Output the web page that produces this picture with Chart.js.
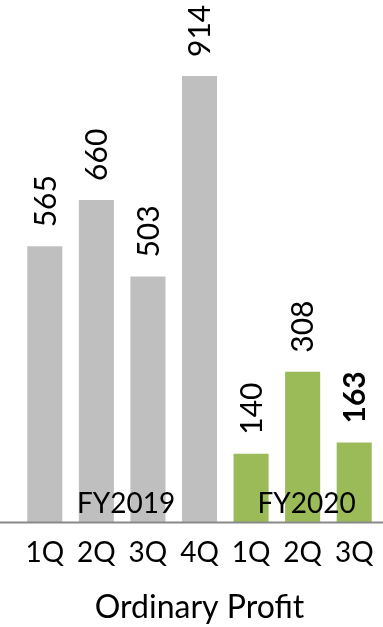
<!DOCTYPE html>
<html>
<head>
<meta charset="utf-8">
<script src="https://cdn.jsdelivr.net/npm/chart.js@4/dist/chart.umd.min.js"></script>
<style>
  html, body { margin: 0; padding: 0; background: #fff; overflow: hidden; }
  canvas { display: block; }
</style>
</head>
<body>
<canvas id="profit" width="383" height="627"></canvas>
<script>
// Ordinary profit by quarter, two fiscal years
let quarters = ['1Q', '2Q', '3Q', '4Q', '1Q', '2Q', '3Q'];
let profit = [565, 660, 503, 914, 140, 308, 163];
let fiscalYears = ['FY2019', 'FY2020'];
let yearOfBar = [0, 0, 0, 0, 1, 1, 1];

let yearColors = ['#bfbfbf', '#9bbb59'];
let fontFamily = 'Lato, "Noto Sans", sans-serif';

// rotated value labels above each bar, latest quarter in bold
const valueLabels = {
    id: 'valueLabels',
    afterDatasetsDraw(chart) {
        const ctx = chart.ctx;
        const meta = chart.getDatasetMeta(0);
        const capH = 30 * 0.72;
        meta.data.forEach((bar, i) => {
            ctx.save();
            ctx.translate(bar.x + capH / 2, bar.y - 19);
            ctx.rotate(-Math.PI / 2);
            ctx.font = (i === profit.length - 1 ? 'bold ' : '') + '30px ' + fontFamily;
            ctx.fillStyle = '#000';
            ctx.textAlign = 'left';
            ctx.textBaseline = 'alphabetic';
            ctx.fillText(String(profit[i]), 0, 0);
            ctx.restore();
        });
    }
};

// baseline across the full width plus fiscal year captions
const yearCaptions = {
    id: 'yearCaptions',
    afterDraw(chart) {
        const ctx = chart.ctx;
        const x = chart.scales.x;
        const y0 = chart.scales.y.getPixelForValue(0);
        ctx.save();
        ctx.strokeStyle = '#898989';
        ctx.lineWidth = 2;
        ctx.beginPath();
        ctx.moveTo(0, y0 + 0.5);
        ctx.lineTo(chart.width, y0 + 0.5);
        ctx.stroke();

        ctx.font = '28px ' + fontFamily;
        ctx.fillStyle = '#000';
        ctx.textAlign = 'center';
        ctx.textBaseline = 'alphabetic';
        fiscalYears.forEach((name, k) => {
            const idx = yearOfBar.map((v, i) => v === k ? i : -1).filter(i => i >= 0);
            const mid = (idx[0] + idx[idx.length - 1]) / 2;
            ctx.fillText(name, x.getPixelForValue(mid) + 4, y0 - 9);
        });
        ctx.restore();
    }
};

new Chart(document.getElementById('profit'), {
    type: 'bar',
    data: {
        labels: quarters,
        datasets: [{
            label: 'Ordinary Profit',
            data: profit,
            backgroundColor: yearOfBar.map(k => yearColors[k]),
            barPercentage: 0.68,
            categoryPercentage: 1.0
        }]
    },
    options: {
        responsive: false,
        animation: false,
        layout: { padding: { left: 19, right: 3, top: 34, bottom: 0 } },
        plugins: {
            legend: { display: false },
            tooltip: { enabled: false }
        },
        scales: {
            x: {
                grid: { display: false, drawTicks: false },
                border: { display: false },
                // keep the bars spread edge to edge, labels may overhang
                afterFit(scale) {
                    scale.paddingLeft = 0;
                    scale.paddingRight = 0;
                },
                ticks: {
                    color: '#000',
                    padding: 14,
                    font: { family: fontFamily, size: 28 }
                },
                title: {
                    display: true,
                    text: 'Ordinary Profit',
                    color: '#000',
                    padding: { top: 5, bottom: 0 },
                    font: { family: fontFamily, size: 32 }
                }
            },
            y: {
                display: false,
                min: 0,
                max: 1000
            }
        }
    },
    plugins: [valueLabels, yearCaptions]
});
</script>
</body>
</html>
